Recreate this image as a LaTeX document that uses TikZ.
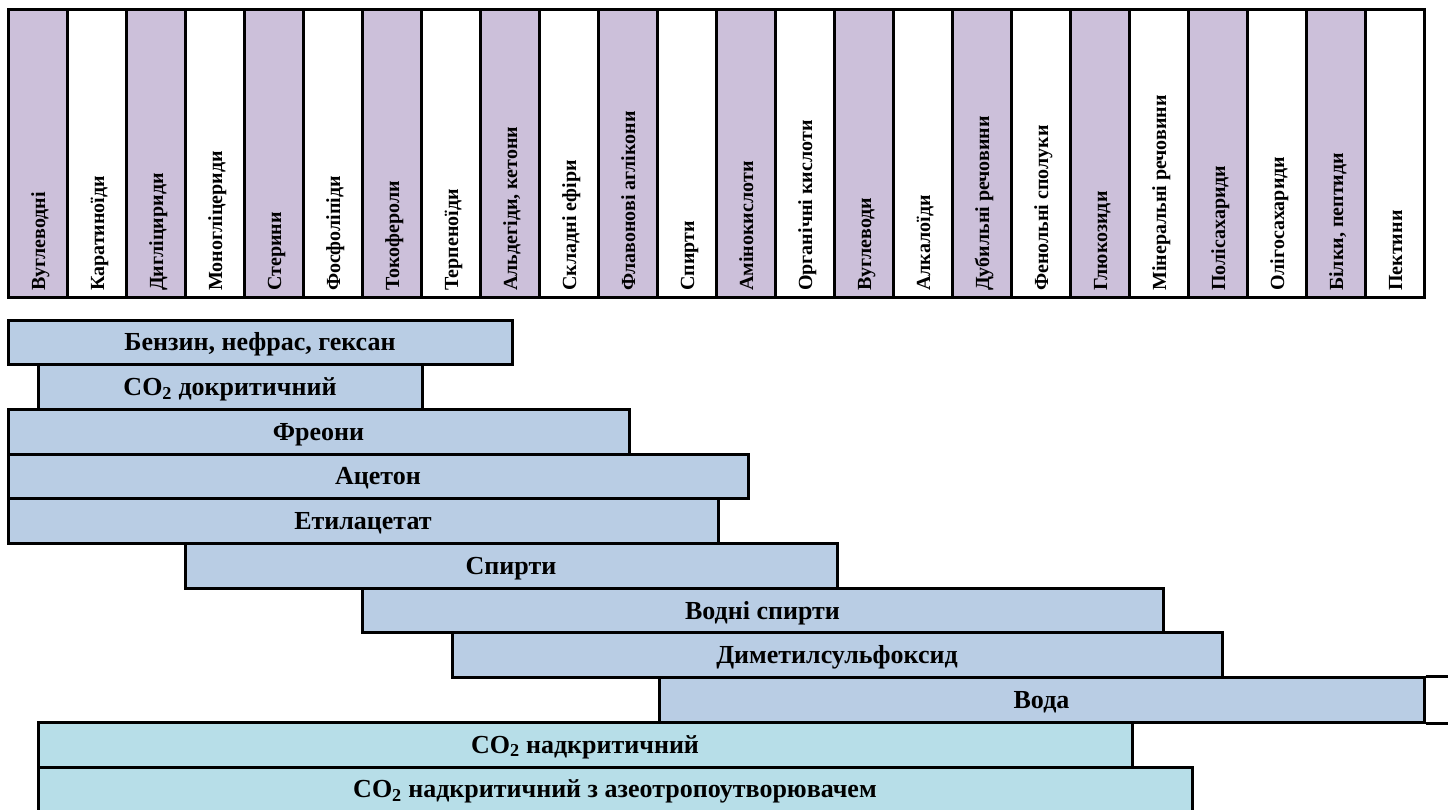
\documentclass[tikz,border=0pt]{standalone}
\usepackage{fontspec}
\setmainfont{Liberation Serif}
\definecolor{lav}{RGB}{204,192,218}
\definecolor{barblue}{RGB}{185,205,228}
\definecolor{baraqua}{RGB}{183,222,232}
\begin{document}
\begin{tikzpicture}[x=1pt,y=-1pt,
  bar/.style={draw=black, line width=3pt, inner sep=0pt, minimum height=44.7pt,
    text height=17pt, text depth=0pt, font=\fontsize{26}{30}\selectfont\bfseries},
  coltext/.style={rotate=90, anchor=west, inner sep=0pt, text height=14pt, text depth=0pt,
    font=\fontsize{20}{24}\selectfont\bfseries},
  gridline/.style={line width=3pt, line cap=rect}]
\useasboundingbox (0,0) rectangle (1448,809);
\clip (0,0) rectangle (1448,809);
% table columns
\foreach [count=\i] \t in {Вуглеводні, Каратиноїди, Дигліцириди, Моногліцериди, Стерини,
  Фосфоліпіди, Токофероли, Терпеноїди, {Альдегіди, кетони}, Складні ефіри,
  Флавонові аглікони, Спирти, Амінокислоти, Органічні кислоти, Вуглеводи, Алкалоїди,
  Дубильні речовини, Фенольні сполуки, Глюкозиди, Мінеральні речовини, Полісахариди,
  Олігосахариди, {Білки, пептиди}, Пектини}{
  \pgfmathsetmacro\xl{8+59*(\i-1)}
  \ifodd\i \fill[lav] (\xl,9) rectangle ++(59,288); \fi
  \node[coltext] (c\i) at (\xl+30,291) {\t};
}
\foreach \i in {1,...,23}{
  \draw[gridline] ({8+59*\i},9) -- ({8+59*\i},297);
}
\draw[gridline] (8,9) rectangle (1424,297);
% solvent bars
\node[bar, fill=barblue, minimum width=504pt] (b1) at (260,342.35) {Бензин, нефрас, гексан};
\node[bar, fill=barblue, minimum width=384pt] (b2) at (230,387.05) {CO\textsubscript{2} докритичний};
\node[bar, fill=barblue, minimum width=621pt] (b3) at (318.5,431.75) {Фреони};
\node[bar, fill=barblue, minimum width=740pt] (b4) at (378,476.45) {Ацетон};
\node[bar, fill=barblue, minimum width=710pt] (b5) at (363,521.15) {Етилацетат};
\node[bar, fill=barblue, minimum width=652pt] (b6) at (511,565.85) {Спирти};
\node[bar, fill=barblue, minimum width=801pt] (b7) at (762.5,610.55) {Водні спирти};
\node[bar, fill=barblue, minimum width=770pt] (b8) at (837,655.25) {Диметилсульфоксид};
\node[bar, fill=barblue, minimum width=765pt] (b9) at (1041.5,699.95) {Вода};
\node[bar, fill=baraqua, minimum width=1094pt] (b10) at (585,744.65) {CO\textsubscript{2} надкритичний};
\node[bar, fill=baraqua, minimum width=1154pt] (b11) at (615,789.35) {CO\textsubscript{2} надкритичний з азеотропоутворювачем};
\coordinate (edge) at (1460,0);
\draw[line width=3pt] (b9.north east) -- (b9.north east -| edge);
\draw[line width=3pt] (b9.south east) -- (b9.south east -| edge);
\end{tikzpicture}
\end{document}
